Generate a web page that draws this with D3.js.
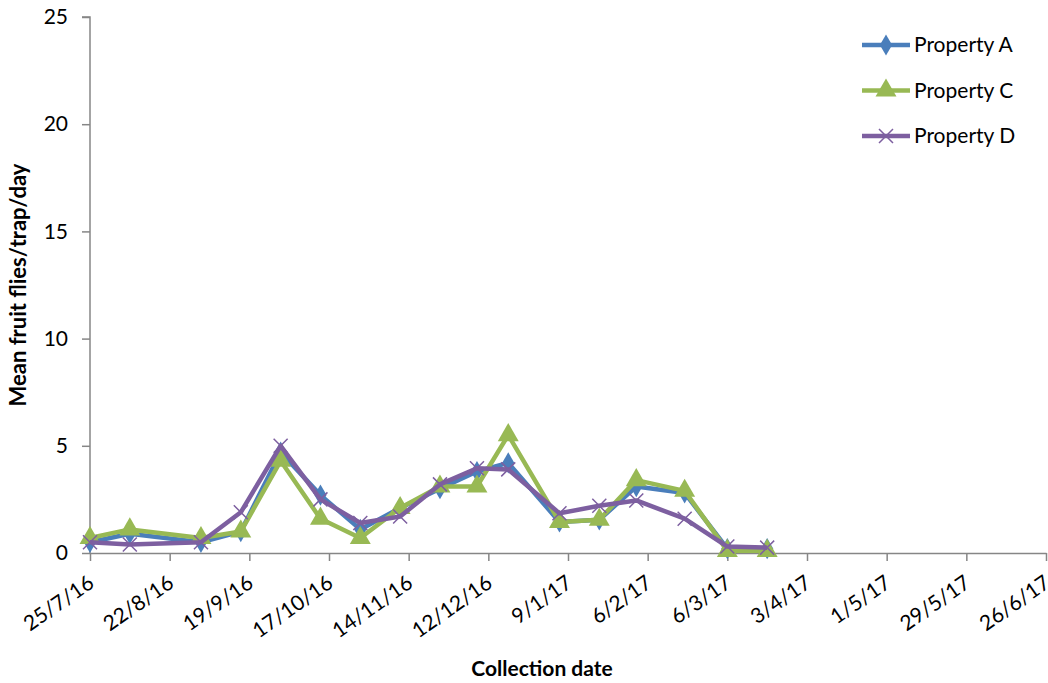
<html>
<head>
  <style>
    body { margin: 0; background: #fff; }
    text { font-family: Lato, "Liberation Sans", sans-serif; fill: #000; }
  </style>
  <script src="https://d3js.org/d3.v7.min.js"></script>
</head>
<body>
<svg id="chart" width="1048" height="683"></svg>
<script type="text/javascript">
var dates = ["25/7/16","8/8/16","2/9/16","16/9/16","30/9/16","14/10/16","28/10/16","11/11/16","25/11/16",
             "8/12/16","19/12/16","6/1/17","20/1/17","2/2/17","19/2/17","6/3/17","20/3/17"]
var propA = [0.5,0.9,0.5,1.0,4.7,2.7,1.1,2.1,3.0,3.8,4.2,1.45,1.55,3.1,2.8,0.2,0.2]
var propC = [0.7,1.1,0.7,1.0,4.3,1.6,0.7,2.1,3.1,3.1,5.5,1.45,1.55,3.4,2.9,0.1,0.1]
var propD = [0.5,0.4,0.5,1.9,5.0,2.5,1.4,1.7,3.2,3.95,3.9,1.85,2.2,2.45,1.6,0.3,0.25]
var seriesNames = ["Property A","Property C","Property D"]
var colors = ["#4a7ebb","#98b954","#7d5fa0"]
var yTicks = [0,5,10,15,20,25]
var xTickLabels = ["25/7/16","22/8/16","19/9/16","17/10/16","14/11/16","12/12/16","9/1/17",
                   "6/2/17","6/3/17","3/4/17","1/5/17","29/5/17","26/6/17"]

var parse = d3.timeParse("%d/%m/%y")
var svg = d3.select("#chart")
var pLeft = 90, pRight = 1046, pTop = 17, pBottom = 553
var fs = "21px"

// day offsets from the first tick so the 28-day ticks line up exactly
var day0 = parse("25/7/16")
function dayOf(s) { return Math.round((parse(s) - day0) / 864e5) }
var xd = d3.scaleLinear().domain([0, 336]).range([pLeft, pRight])
var y = d3.scaleLinear().domain([0, 25]).range([pBottom, pTop])

// y axis
var yAxis = d3.axisLeft(y).tickValues(yTicks).tickSize(8).tickPadding(14)
var gy = svg.append("g").attr("transform", "translate(" + pLeft + ",0)").call(yAxis)
gy.selectAll("path, line").attr("stroke", "#868686").attr("stroke-width", 1.5)
gy.select(".domain").attr("d", "M-8," + pTop + "H0V" + pBottom)
gy.selectAll("text").style("font-size", fs).style("font-family", "Lato, sans-serif").attr("fill", "#000")

// x axis
var xAxis = d3.axisBottom(xd).tickValues(xTickLabels.map(dayOf))
  .tickFormat(function(d, i) { return xTickLabels[i] }).tickSize(8).tickSizeOuter(0)
var gx = svg.append("g").attr("transform", "translate(0," + pBottom + ")").call(xAxis)
gx.selectAll("path, line").attr("stroke", "#868686").attr("stroke-width", 1.5)
gx.selectAll("text")
  .style("font-size", fs).style("font-family", "Lato, sans-serif").attr("fill", "#000")
  .attr("text-anchor", "end").attr("dy", "0")
  .attr("transform", "translate(5,33) rotate(-35)")
  .attr("y", 0).attr("x", 0)

// axis titles
svg.append("text").attr("x", 542).attr("y", 676).attr("text-anchor", "middle")
  .style("font-size", fs).style("font-weight", "bold").text("Collection date")
svg.append("text").attr("transform", "translate(26,285) rotate(-90)").attr("text-anchor", "middle")
  .style("font-size", "22px").style("font-weight", "bold").text("Mean fruit flies/trap/day")

var allSeries = [propA, propC, propD]
var line = d3.line().x(function(d, i) { return xd(dayOf(dates[i])) }).y(function(d) { return y(d) })

function marker(g, k, cx, cy) {
  if (k == 0) {
    g.append("path").attr("d", d3.symbol().type(d3.symbolDiamond).size(130)())
      .attr("transform", "translate(" + cx + "," + cy + ")")
      .attr("fill", colors[0])
  } else if (k == 1) {
    g.append("path").attr("d", d3.symbol().type(d3.symbolTriangle).size(190)())
      .attr("transform", "translate(" + cx + "," + cy + ")")
      .attr("fill", colors[1])
  } else {
    g.append("path").attr("d", "M-7,-7L7,7M-7,7L7,-7")
      .attr("transform", "translate(" + cx + "," + cy + ")")
      .attr("stroke", colors[2]).attr("stroke-width", 1.5).attr("fill", "none")
  }
}

allSeries.forEach(function(vals, k) {
  var g = svg.append("g")
  g.append("path").datum(vals).attr("d", line).attr("fill", "none")
    .attr("stroke", colors[k]).attr("stroke-width", 4.5).attr("stroke-linejoin", "round")
  vals.forEach(function(v, i) { marker(g, k, xd(dayOf(dates[i])), y(v)) })
})

// legend
seriesNames.forEach(function(name, k) {
  var ly = 45 + k * 45.5
  var g = svg.append("g")
  g.append("line").attr("x1", 862).attr("x2", 910).attr("y1", ly).attr("y2", ly)
    .attr("stroke", colors[k]).attr("stroke-width", 4.5)
  marker(g, k, 886, ly)
  g.append("text").attr("x", 914).attr("y", ly + 7).style("font-size", fs).text(name)
})
</script>
</body>
</html>
